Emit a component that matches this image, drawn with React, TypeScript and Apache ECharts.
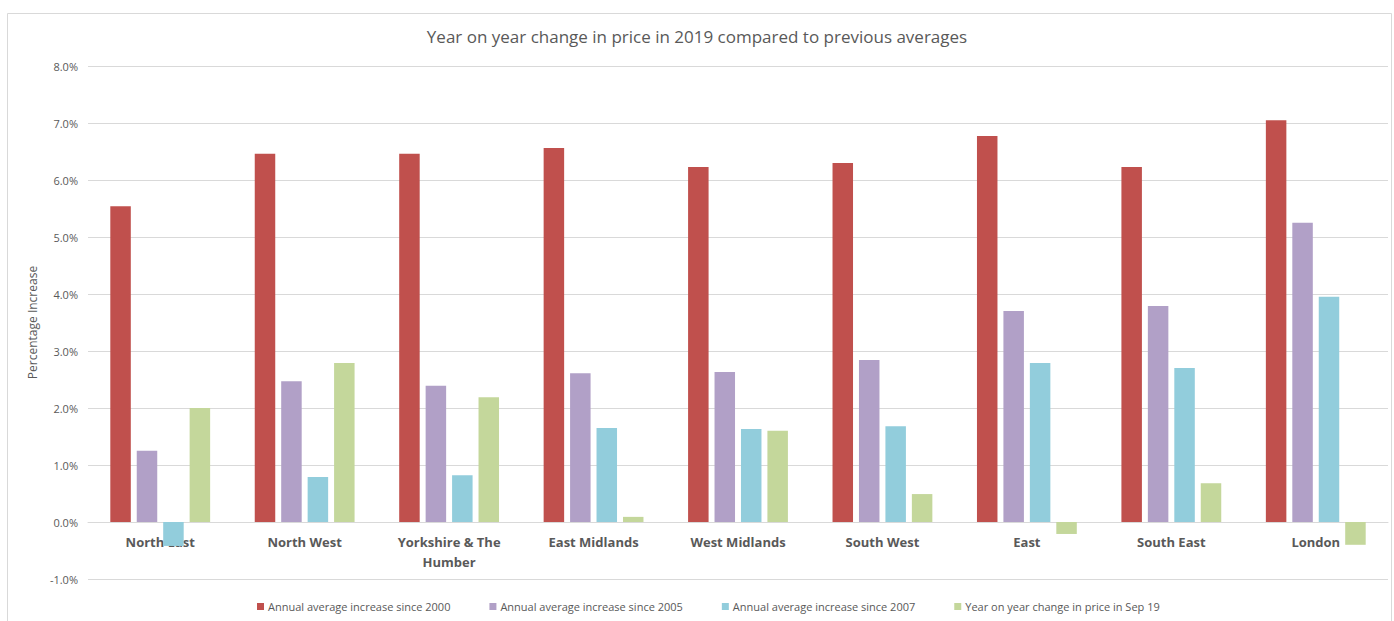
import React, { useEffect, useRef } from "react";
import * as echarts from "echarts";

const categories = [
  "North East",
  "North West",
  "Yorkshire & The\nHumber",
  "East Midlands",
  "West Midlands",
  "South West",
  "East",
  "South East",
  "London",
];
const since2000 = [5.54, 6.46, 6.46, 6.56, 6.23, 6.3, 6.77, 6.23, 7.05];
const since2005 = [1.25, 2.47, 2.39, 2.61, 2.63, 2.84, 3.7, 3.79, 5.25];
const since2007 = [-0.42, 0.79, 0.82, 1.65, 1.63, 1.68, 2.79, 2.7, 3.95];
const yoySep19 = [2.0, 2.79, 2.19, 0.09, 1.6, 0.49, -0.21, 0.68, -0.4];
const seriesNames = [
  "Annual average increase since 2000",
  "Annual average increase since 2005",
  "Annual average increase since 2007",
  "Year on year change in price in Sep 19",
];
const colors = ["#C0504D", "#B1A0C7", "#92CDDC", "#C4D79B"];
const yMin = -1;
const yMax = 8;

export default function App() {
  const ref = useRef<HTMLDivElement>(null);
  useEffect(() => {
    if (!ref.current) return;
    const chart = echarts.init(ref.current, null, { renderer: "svg" });
    const font = "'Open Sans', 'Noto Sans', sans-serif";
    const data = [since2000, since2005, since2007, yoySep19];
    const gridTop = 66;
    const gridBottomPx = 579;
    const zeroOffset = ((gridBottomPx - gridTop) * (0 - yMin)) / (yMax - yMin);
    chart.setOption({
      animation: false,
      textStyle: { fontFamily: font },
      graphic: [
        {
          type: "rect",
          shape: { x: 7.5, y: 13.5, width: 1384, height: 620 },
          style: { fill: "none", stroke: "#d9d9d9", lineWidth: 1 },
          silent: true,
        },
      ],
      title: {
        text: "Year on year change in price in 2019 compared to previous averages",
        left: "center",
        top: 23,
        textStyle: { fontFamily: font, fontSize: 17, fontWeight: "normal", color: "#595959" },
      },
      grid: {
        left: 88,
        right: 6,
        top: gridTop,
        bottom: 621 - gridBottomPx,
        containLabel: false,
        outerBoundsMode: "none",
      },
      legend: {
        top: 596,
        left: 252,
        itemWidth: 7,
        itemHeight: 7,
        itemGap: 39,
        icon: "rect",
        textStyle: { fontFamily: font, fontSize: 11, color: "#595959", padding: [0, 0, 0, -1] },
        data: seriesNames,
      },
      xAxis: {
        type: "category",
        data: categories,
        offset: -zeroOffset,
        axisLine: { onZero: false, lineStyle: { color: "#d9d9d9" } },
        axisTick: { show: false },
        axisLabel: {
          fontFamily: font,
          fontSize: 13,
          fontWeight: "bold",
          color: "#595959",
          margin: 10,
          lineHeight: 20,
          interval: 0,
        },
      },
      yAxis: {
        type: "value",
        min: yMin,
        max: yMax,
        interval: 1,
        name: "Percentage Increase",
        nameLocation: "middle",
        nameGap: 46,
        nameRotate: 90,
        nameTextStyle: { fontFamily: font, fontSize: 12, color: "#595959" },
        axisLine: { show: false },
        axisTick: { show: false },
        axisLabel: {
          fontFamily: font,
          fontSize: 11,
          color: "#595959",
          margin: 10,
          formatter: (v: number) => v.toFixed(1) + "%",
        },
        splitLine: { lineStyle: { color: "#d9d9d9" } },
      },
      series: data.map((d, i) => ({
        name: seriesNames[i],
        type: "bar",
        data: d,
        barWidth: 20.5,
        barGap: "29%",
        itemStyle: { color: colors[i] },
      })),
    });
    return () => chart.dispose();
  }, []);
  return (
    <div
      ref={ref}
      style={{ position: "fixed", left: 0, top: 0, width: 1394, height: 621, background: "#fff" }}
    />
  );
}
